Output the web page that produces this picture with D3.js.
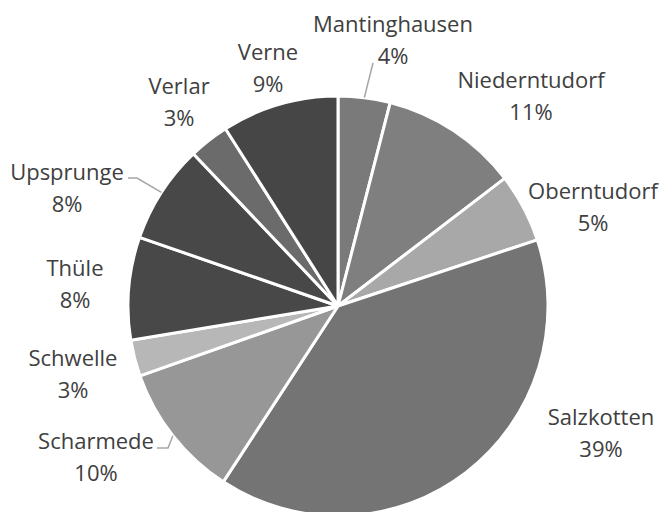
<!DOCTYPE html>
<html>
<head>
<meta charset="utf-8">
<script src="https://cdn.jsdelivr.net/npm/d3@7"></script>
<style>
  body { margin: 0; background: #fff; }
  svg text { font-family: "Open Sans", "Noto Sans", sans-serif; fill: #404040; }
</style>
</head>
<body>
<div id="chart"></div>
<script>
// Ortsteile, Anteile in Prozent (im Uhrzeigersinn ab 12 Uhr)
var names = ['Mantinghausen', 'Niederntudorf', 'Oberntudorf', 'Salzkotten', 'Scharmede',
             'Schwelle', 'Thüle', 'Upsprunge', 'Verlar', 'Verne'];
var shares = [4.0, 10.6, 5.3, 39.3, 10.4, 2.8, 7.9, 7.6, 3.1, 9.0];
var greys = ['#7a7a7a', '#7f7f7f', '#a8a8a8', '#747474', '#979797',
             '#b7b7b7', '#484848', '#484848', '#6b6b6b', '#464646'];

// label placement (centre of the two-line label)
var labelXY = [[393, 40], [531, 96], [593, 207], [601, 433], [96, 457],
               [73, 374], [75, 284], [67, 188], [179, 102], [268, 68]];
// elbow points for the leader lines (only some labels have one)
var leaders = { 'Mantinghausen': [[373, 63]], 'Upsprunge': [[128, 178], [137, 178]], 'Scharmede': [[157, 448], [168, 448]] };

var width = 659, height = 512;
var cx = 338, cy = 306, radius = 210;

var svg = d3.select('#chart').append('svg')
    .attr('width', width)
    .attr('height', height);

var pie = d3.pie().sort(null).value(function(d) { return d; });
var arcs = pie(shares);
var arc = d3.arc().innerRadius(0).outerRadius(radius);

var g = svg.append('g').attr('transform', 'translate(' + cx + ',' + cy + ')');

g.selectAll('path.slice')
  .data(arcs)
  .enter()
  .append('path')
  .attr('class', 'slice')
  .attr('d', arc)
  .attr('fill', function(d, i) { return greys[i]; })
  .attr('stroke', '#fff')
  .attr('stroke-width', 3)
  .attr('stroke-linejoin', 'round');

// leader lines
arcs.forEach(function(d, i) {
  var pts = leaders[names[i]];
  if (!pts) return;
  var mid = (d.startAngle + d.endAngle) / 2;
  var end = [cx + radius * Math.sin(mid), cy - radius * Math.cos(mid)];
  svg.append('path')
    .attr('d', d3.line()(pts.concat([end])))
    .attr('fill', 'none')
    .attr('stroke', '#a6a6a6')
    .attr('stroke-width', 1.5);
});

var labels = svg.selectAll('g.lbl')
  .data(arcs)
  .enter()
  .append('g')
  .attr('class', 'lbl')
  .attr('transform', function(d, i) { return 'translate(' + labelXY[i][0] + ',' + labelXY[i][1] + ')'; });

labels.append('text')
  .attr('text-anchor', 'middle')
  .attr('y', -8)
  .style('font-size', '22px')
  .text(function(d, i) { return names[i]; });

labels.append('text')
  .attr('text-anchor', 'middle')
  .attr('y', 24)
  .style('font-size', '22px')
  .text(function(d) { return Math.round(d.value) + '%'; });
</script>
</body>
</html>
